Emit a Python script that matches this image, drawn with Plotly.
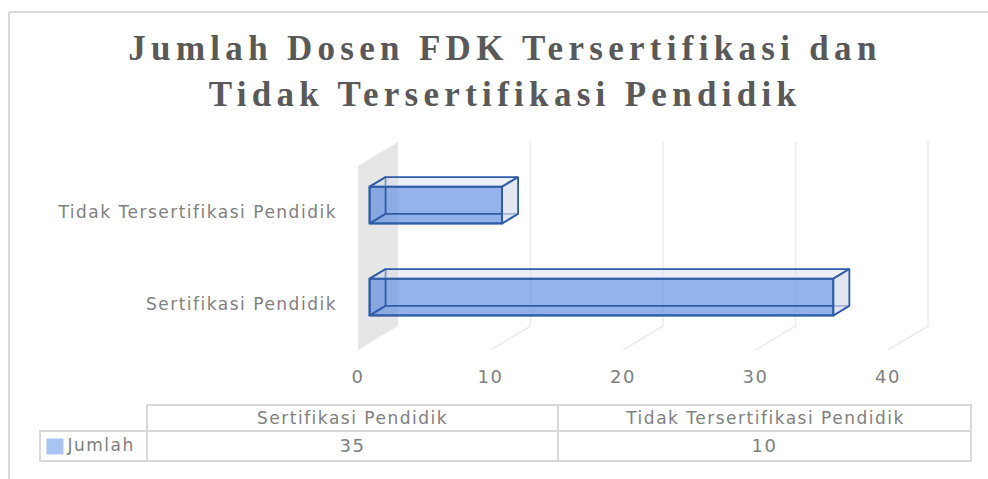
import plotly.graph_objects as go

# ---- data ----
categories = ["Sertifikasi Pendidik", "Tidak Tersertifikasi Pendidik"]
series_name = "Jumlah"
values = [35, 10]
value_ticks = [0, 10, 20, 30, 40]
title_lines = ["Jumlah Dosen FDK Tersertifikasi dan", "Tidak Tersertifikasi Pendidik"]

# ---- layout constants ----
W, H = 988, 479
L, R, T, B = 358, 45, 130, 129   # plot area in pixels
PX_PER_UNIT = 13.25
PX_PER_CAT = 92
DX, DY = 40 / PX_PER_UNIT, 24 / PX_PER_CAT   # full depth in axis units
D0, D1 = 0.29, 0.69        # bar depth span
BAR_W = 0.4
x_range = [0, (W - R - L) / PX_PER_UNIT]
y_range = [-0.5, -0.5 + (H - B - T) / PX_PER_CAT]
GREY = "#808080"
FONT = "DejaVu Sans"
OUT = "#2e5ca6"


def px(x):
    return (x - L) / (W - R - L)


def py(y):
    return 1 - (y - T) / (H - B - T)


def proj(v, c, d):
    return v + d * DX, c + d * DY


def path(points):
    return "M " + " L ".join(f"{x:.4f} {y:.4f}" for x, y in points) + " Z"


shapes = []
top = 1.5
bot = -0.5
# back wall at value 0
shapes.append(dict(type="path", xref="x", yref="y", layer="below",
                   path=path([proj(0, bot, 0), proj(0, bot, 1), proj(0, top, 1), proj(0, top, 0)]),
                   fillcolor="#e6e6e6", line=dict(width=0)))
# gridlines
for v in value_ticks[1:]:
    a, b, c = proj(v, bot, 0), proj(v, bot, 1), proj(v, top, 1)
    shapes.append(dict(type="path", xref="x", yref="y", layer="below",
                       path=f"M {a[0]} {a[1]} L {b[0]} {b[1]} L {c[0]} {c[1]}",
                       line=dict(color="#ececec", width=1.5)))

fig = go.Figure()

# front faces as real bars
fx0, fy0 = proj(0, 0, D0)
fig.add_trace(go.Bar(
    orientation="h", x=values, base=[fx0] * len(values),
    y=[i + fy0 for i in range(len(values))], width=BAR_W,
    marker=dict(color="rgba(105,150,226,0.72)", line=dict(color=OUT, width=2)),
    name=series_name, showlegend=False,
))


def face(pts, fill, line=OUT, width=1.8):
    xs = [p[0] for p in pts] + [pts[0][0]]
    ys = [p[1] for p in pts] + [pts[0][1]]
    fig.add_trace(go.Scatter(x=xs, y=ys, mode="lines", fill="toself", fillcolor=fill,
                             line=dict(color=line, width=width), showlegend=False,
                             hoverinfo="skip"))


for i, v in enumerate(values):
    lo, hi = i - BAR_W / 2, i + BAR_W / 2
    # left and bottom faces (seen through the front)
    face([proj(0, lo, D0), proj(0, lo, D1), proj(0, hi, D1), proj(0, hi, D0)], "rgba(47,85,151,0.05)")
    face([proj(0, lo, D0), proj(v, lo, D0), proj(v, lo, D1), proj(0, lo, D1)], "rgba(47,85,151,0.02)")
    # top and side faces
    face([proj(0, hi, D0), proj(v, hi, D0), proj(v, hi, D1), proj(0, hi, D1)], "rgba(214,220,235,0.45)")
    face([proj(v, lo, D0), proj(v, lo, D1), proj(v, hi, D1), proj(v, hi, D0)], "rgba(214,220,235,0.70)")

# outer frame
frame = "#d9d9d9"
shapes.append(dict(type="line", xref="paper", yref="paper", x0=px(9), x1=px(988), y0=py(12), y1=py(12),
                   line=dict(color=frame, width=2)))
shapes.append(dict(type="line", xref="paper", yref="paper", x0=px(9), x1=px(9), y0=py(12), y1=py(479),
                   line=dict(color=frame, width=2)))

# data table
TX = [147, 558, 971]
TY = [405, 431, 461]
LEG_X = 40
cell = "#d9d9d9"
def rect(x0, y0, x1, y1, **kw):
    shapes.append(dict(type="rect", xref="paper", yref="paper", x0=px(x0), x1=px(x1), y0=py(y0), y1=py(y1),
                       layer="above", **kw))
for j in range(2):
    for k in range(2):
        rect(TX[j], TY[k], TX[j + 1], TY[k + 1], line=dict(color=cell, width=2))
rect(LEG_X, TY[1], TX[0], TY[2], line=dict(color=cell, width=2))
rect(47, 439, 63, 454, fillcolor="#a9c4f2", line=dict(color="#a9c4f2", width=1))

annotations = []
def label(text, x, y, anchor="center", size=17):
    annotations.append(dict(text=text, xref="paper", yref="paper", x=px(x), y=py(y), xanchor=anchor,
                            yanchor="middle", showarrow=False, font=dict(family=FONT, size=size, color=GREY)))
for j in range(2):
    label(categories[j], (TX[j] + TX[j + 1]) / 2 - 0, 418)
    label(str(values[j]), (TX[j] + TX[j + 1]) / 2 + 0, 445, size=18)
label(series_name, 69, 445, anchor="left")

fig.update_layout(
    width=W, height=H, autosize=False,
    margin=dict(l=L, r=R, t=T, b=B, pad=0),
    paper_bgcolor="white", plot_bgcolor="rgba(0,0,0,0)",
    showlegend=False, shapes=shapes, annotations=annotations,
    title=dict(text="<br>".join(title_lines), x=505 / W, xanchor="center", y=1 - 60 / H, yanchor="middle",
               font=dict(family="Liberation Serif", size=35, color="#595959", weight="bold")),
    xaxis=dict(range=x_range, tickmode="array", tickvals=value_ticks, ticktext=[str(t) for t in value_ticks],
               showgrid=False, zeroline=False, showline=False, ticks="", ticklabelstandoff=14,
               tickfont=dict(family=FONT, size=18, color=GREY)),
    yaxis=dict(range=y_range, tickmode="array", tickvals=[0, 1], ticktext=categories,
               showgrid=False, zeroline=False, showline=False, ticks="", ticklabelstandoff=20,
               tickfont=dict(family=FONT, size=17, color=GREY)),
)

post = """
document.body.style.margin='0';
document.documentElement.style.overflow='hidden';
var s=document.createElement('style');
s.textContent='.main-svg text{letter-spacing:1.5px} .main-svg .gtitle{letter-spacing:5.3px}';
document.head.appendChild(s);
"""
fig.write_html("out.html", post_script=post, config={"displayModeBar": False})
